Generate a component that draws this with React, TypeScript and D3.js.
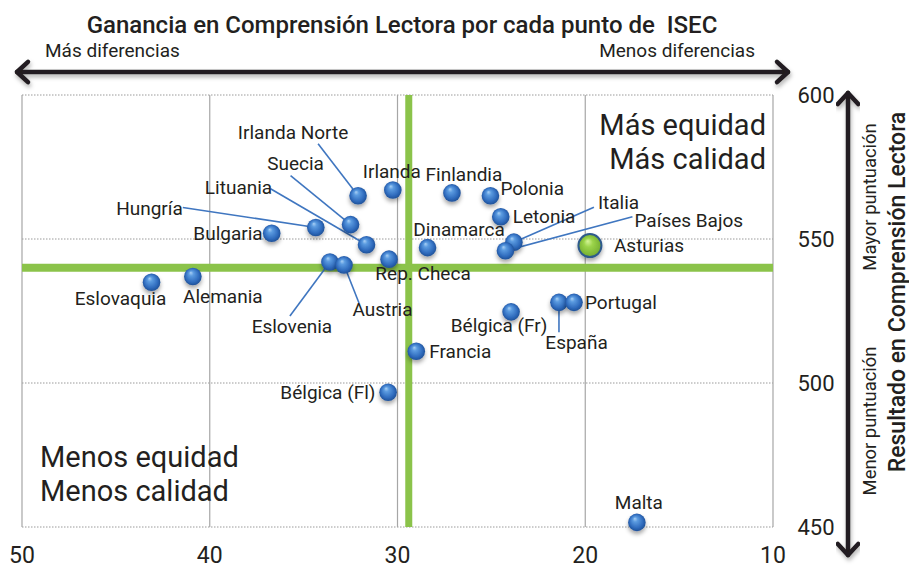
import React from "react";
import * as d3 from "d3";

// ---- Data ----
const countries = [
  "Eslovaquia", "Alemania", "Bulgaria", "Hungría", "Suecia", "Lituania",
  "Irlanda Norte", "Irlanda", "Finlandia", "Polonia", "Letonia", "Dinamarca",
  "Italia", "Países Bajos", "Rep. Checa", "Eslovenia", "Austria",
  "Bélgica (Fr)", "España", "Portugal", "Francia", "Bélgica (Fl)", "Malta",
];
const isecGain = [
  43.1, 40.9, 36.7, 34.35, 32.5, 31.65,
  32.1, 30.25, 27.1, 25.05, 24.5, 28.4,
  23.8, 24.25, 30.45, 33.6, 32.85,
  23.95, 21.4, 20.6, 29.0, 30.5, 17.25,
];
const readingScore = [
  535, 537, 552, 554, 555, 548,
  565, 567, 566, 565, 557.7, 547,
  548.9, 545.9, 543, 542, 541,
  524.7, 528, 528, 511, 496.8, 451.6,
];
const asturias = { name: "Asturias", isec: 19.75, score: 547.7 };
const avgIsec = 29.4;
const avgScore = 540;
const xTicks = [50, 40, 30, 20, 10];
const yTicks = [600, 550, 500, 450];

// ---- Label layout (pixel offsets from the point) ----
type LabelLayout = { anchor: "start" | "middle" | "end"; dx: number; dy: number; lx?: number; ly?: number };
const labelLayout: Record<string, LabelLayout> = {
  "Eslovaquia": { anchor: "middle", dx: -31, dy: 16 },
  "Alemania": { anchor: "middle", dx: 30, dy: 20 },
  "Bulgaria": { anchor: "end", dx: -9, dy: 0 },
  "Hungría": { anchor: "end", dx: -133, dy: -19, lx: -133, ly: -20 },
  "Suecia": { anchor: "middle", dx: -55, dy: -61, lx: -60, ly: -49 },
  "Lituania": { anchor: "middle", dx: -128, dy: -57, lx: -96, ly: -56 },
  "Irlanda Norte": { anchor: "middle", dx: -65, dy: -63, lx: -40, ly: -52 },
  "Irlanda": { anchor: "start", dx: -30, dy: -19 },
  "Finlandia": { anchor: "middle", dx: 12, dy: -18.5 },
  "Polonia": { anchor: "start", dx: 10, dy: -7 },
  "Letonia": { anchor: "start", dx: 12, dy: 0 },
  "Dinamarca": { anchor: "middle", dx: 31.5, dy: -17.7 },
  "Italia": { anchor: "start", dx: 84, dy: -40, lx: 80, ly: -35 },
  "Países Bajos": { anchor: "start", dx: 129, dy: -30, lx: 127, ly: -34 },
  "Rep. Checa": { anchor: "middle", dx: 34, dy: 14 },
  "Eslovenia": { anchor: "middle", dx: -38, dy: 64, lx: -40, ly: 54 },
  "Austria": { anchor: "middle", dx: 38.5, dy: 44.5, lx: 15, ly: 38 },
  "Bélgica (Fr)": { anchor: "middle", dx: -12, dy: 14 },
  "España": { anchor: "middle", dx: 17.6, dy: 40, lx: 0, ly: 30 },
  "Portugal": { anchor: "start", dx: 11, dy: 0 },
  "Francia": { anchor: "start", dx: 13, dy: 0 },
  "Bélgica (Fl)": { anchor: "end", dx: -12.7, dy: 0 },
  "Malta": { anchor: "middle", dx: 2, dy: -20 },
};

const W = 909;
const H = 567;
const FONT = "Roboto, 'Noto Sans', sans-serif";
const TEXT = "#231f20";
const LABEL_SIZE = 19;

export default function App() {
  const x = d3.scaleLinear().domain([50, 10]).range([22, 773]);
  const y = d3.scaleLinear().domain([450, 600]).range([527, 95]);
  const [x0, x1] = x.range();
  const [y0, y1] = [y(600), y(450)];

  const pts = countries.map((c, i) => ({ name: c, px: x(isecGain[i]), py: y(readingScore[i]) }));

  const chevron = (tx: number, ty: number, dirX: number, dirY: number, len = 15) => {
    const a = Math.PI / 4.2;
    const ang = Math.atan2(dirY, dirX);
    const p1 = [tx - len * Math.cos(ang - a), ty - len * Math.sin(ang - a)];
    const p2 = [tx - len * Math.cos(ang + a), ty - len * Math.sin(ang + a)];
    return `M${p1[0]},${p1[1]}L${tx},${ty}L${p2[0]},${p2[1]}`;
  };

  return (
    <div style={{ position: "fixed", left: 0, top: 0, width: W, height: H, background: "#fff" }}>
      <svg width={W} height={H} style={{ display: "block", fontFamily: FONT }}>
        <defs>
          <radialGradient id="blueBall" cx="50%" cy="50%" r="55%" fx="38%" fy="28%">
            <stop offset="0%" stopColor="#a9d0f5" />
            <stop offset="25%" stopColor="#5b9be0" />
            <stop offset="70%" stopColor="#2f6bbd" />
            <stop offset="100%" stopColor="#1b4a8e" />
          </radialGradient>
          <radialGradient id="greenBall" cx="50%" cy="50%" r="55%" fx="40%" fy="30%">
            <stop offset="0%" stopColor="#d6f59a" />
            <stop offset="35%" stopColor="#9bd44a" />
            <stop offset="100%" stopColor="#6fa82c" />
          </radialGradient>
          <filter id="ballShadow" x="-50%" y="-50%" width="200%" height="220%">
            <feDropShadow dx="0" dy="3" stdDeviation="2" floodColor="#000" floodOpacity="0.35" />
          </filter>
          <filter id="arrowShadow" x="-5%" y="-50%" width="110%" height="300%">
            <feDropShadow dx="1" dy="3" stdDeviation="2" floodColor="#000" floodOpacity="0.3" />
          </filter>
        </defs>

        {/* Title */}
        <text x={402} y={25} textAnchor="middle" dominantBaseline="central" fontSize={24} fontWeight={500} fill={TEXT} style={{ whiteSpace: "pre" }}>
          {"Ganancia en Comprensión Lectora por cada punto de  ISEC"}
        </text>
        <text x={45} y={50} dominantBaseline="central" fontSize={19} fill={TEXT}>Más diferencias</text>
        <text x={755} y={50} textAnchor="end" dominantBaseline="central" fontSize={19} fill={TEXT}>Menos diferencias</text>

        {/* Horizontal arrow */}
        <g filter="url(#arrowShadow)" stroke={TEXT} strokeWidth={4.5} fill="none" strokeLinecap="round" strokeLinejoin="round">
          <line x1={17} y1={72} x2={788} y2={72} />
          <path d={chevron(17, 72, -1, 0)} />
          <path d={chevron(788, 72, 1, 0)} />
        </g>

        {/* Plot frame & grid */}
        <g>
          {yTicks.map((t) => (
            <line key={"hy" + t} x1={x0} x2={x1} y1={y(t)} y2={y(t)} stroke="#9a9a9a" strokeWidth={1} strokeDasharray="1.5,1.5" />
          ))}
          {xTicks.map((t) => (
            <line key={"vx" + t} x1={x(t)} x2={x(t)} y1={y0} y2={y1} stroke="#a6a6a6" strokeWidth={1.2} />
          ))}
        </g>

        {/* Average lines */}
        <line x1={x(avgIsec)} x2={x(avgIsec)} y1={y0} y2={y1} stroke="#8bc34a" strokeWidth={7} />
        <line x1={x0} x2={x1} y1={y(avgScore)} y2={y(avgScore)} stroke="#8bc34a" strokeWidth={8} />

        {/* Quadrant texts */}
        <text x={766} y={125} textAnchor="end" dominantBaseline="central" fontSize={29} fill={TEXT}>Más equidad</text>
        <text x={766} y={159} textAnchor="end" dominantBaseline="central" fontSize={29} fill={TEXT}>Más calidad</text>
        <text x={40} y={457} dominantBaseline="central" fontSize={29} fill={TEXT}>Menos equidad</text>
        <text x={40} y={491} dominantBaseline="central" fontSize={29} fill={TEXT}>Menos calidad</text>

        {/* Leader lines */}
        {pts.map((p) => {
          const l = labelLayout[p.name];
          if (!l || l.lx === undefined) return null;
          return (
            <line key={"ll" + p.name} x1={p.px + l.lx} y1={p.py + (l.ly ?? 0)} x2={p.px} y2={p.py} stroke="#3f76c0" strokeWidth={1.6} />
          );
        })}

        {/* Points */}
        {pts.map((p) => (
          <circle key={"pt" + p.name} cx={p.px} cy={p.py} r={8.8} fill="url(#blueBall)" filter="url(#ballShadow)" />
        ))}
        <circle cx={x(asturias.isec)} cy={y(asturias.score)} r={11.5} fill="url(#greenBall)" stroke="#2e5a8c" strokeWidth={2} filter="url(#ballShadow)" />

        {/* Labels */}
        {pts.map((p) => {
          const l = labelLayout[p.name];
          return (
            <text key={"lb" + p.name} x={p.px + l.dx} y={p.py + l.dy} textAnchor={l.anchor} dominantBaseline="central" fontSize={LABEL_SIZE} fill={TEXT}>
              {p.name}
            </text>
          );
        })}
        <text x={x(asturias.isec) + 24} y={y(asturias.score)} dominantBaseline="central" fontSize={LABEL_SIZE} fill={TEXT}>{asturias.name}</text>

        {/* X tick labels */}
        {xTicks.map((t) => (
          <text key={"xt" + t} x={x(t)} y={555} textAnchor="middle" dominantBaseline="central" fontSize={23} fill={TEXT}>{t}</text>
        ))}
        {/* Y tick labels */}
        {yTicks.map((t) => (
          <text key={"yt" + t} x={816} y={y(t)} textAnchor="middle" dominantBaseline="central" fontSize={22} fill={TEXT}>{t}</text>
        ))}

        {/* Vertical arrow */}
        <g filter="url(#arrowShadow)" stroke={TEXT} strokeWidth={4.5} fill="none" strokeLinecap="round" strokeLinejoin="round">
          <line x1={848} y1={93} x2={848} y2={555} />
          <path d={chevron(848, 93, 0, -1)} />
          <path d={chevron(848, 555, 0, 1)} />
        </g>

        {/* Rotated texts */}
        <text transform="translate(869,197) rotate(-90)" textAnchor="middle" dominantBaseline="central" fontSize={18.4} fill={TEXT}>Mayor puntuación</text>
        <text transform="translate(869,421) rotate(-90)" textAnchor="middle" dominantBaseline="central" fontSize={18.4} fill={TEXT}>Menor puntuación</text>
        <text transform="translate(897,292) rotate(-90)" textAnchor="middle" dominantBaseline="central" fontSize={23} fontWeight={500} fill={TEXT}>Resultado en Comprensión Lectora</text>
      </svg>
    </div>
  );
}
